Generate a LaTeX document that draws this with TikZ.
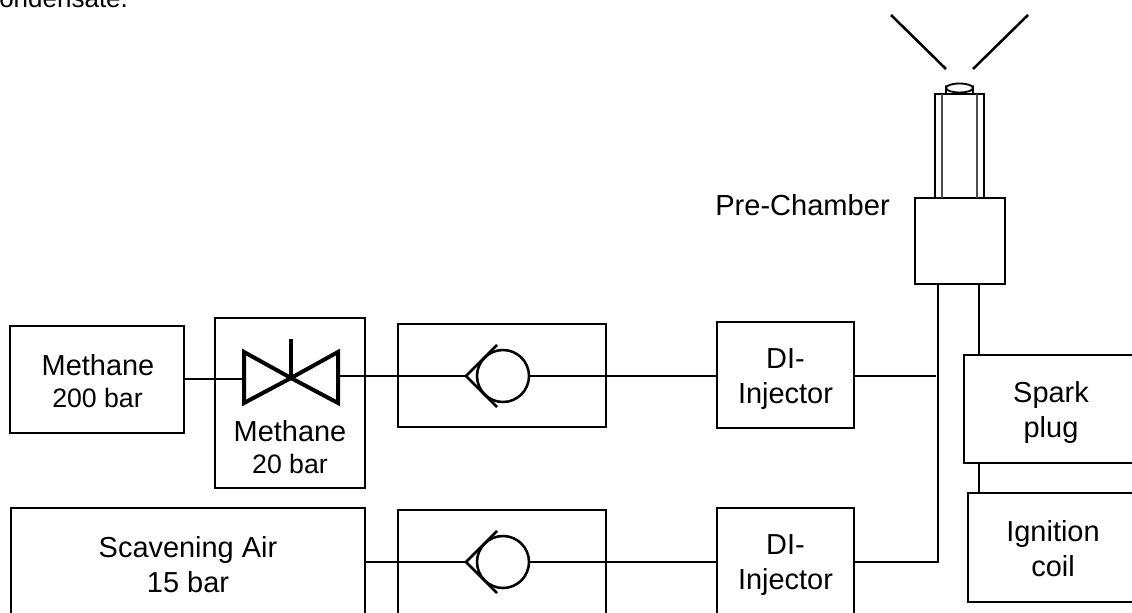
\documentclass[tikz,border=0pt]{standalone}
\usepackage{fontspec}
\setmainfont{Liberation Sans}
\newcommand{\fsA}{\fontsize{21.7pt}{26.25pt}\selectfont}
\newcommand{\fsB}{\fontsize{20pt}{26.25pt}\selectfont}
\tikzset{
  box/.style={draw=black,line width=1.9pt,inner sep=0pt},
  lbl/.style={inner sep=0pt,align=center,text=black,font=\fsA},
  lblb/.style={inner sep=0pt,align=center,text=black,font=\fsB},
  pipe/.style={draw=black,line width=1.9pt},
  thin tube/.style={draw=black!70,line width=1pt},
  valve/.style={draw=black,line width=3pt,line join=miter},
  chk/.style={draw=black,line width=1.9pt,circle,minimum size=39pt,inner sep=0pt},
}
\begin{document}
\begin{tikzpicture}[x=0.75pt,y=-0.75pt]
\useasboundingbox (0,0) rectangle (1132,613);
\clip (0,0) rectangle (1132,613);
% caption fragment cut by the top edge
\node[lbl,anchor=base west,font=\fontsize{19.5pt}{24pt}\selectfont] (cap) at (-14,7.5) {condensate.};
% boxes
\node[box,minimum width=130.5pt,minimum height=80.25pt] (meth200) at (97,379.5) {};
\node[lbl] (meth200t) at (98,365) {Methane};
\node[lblb] (meth200u) at (97.5,398) {200 bar};
\node[box,minimum width=112.5pt,minimum height=127.5pt] (meth20) at (290,403) {};
\node[lbl] (meth20t) at (290,431) {Methane};
\node[lblb] (meth20u) at (290,464) {20 bar};
\node[box,minimum width=156pt,minimum height=77.25pt] (chk1) at (502,375.5) {};
\node[box,minimum width=102.75pt,minimum height=79.5pt] (di1) at (785.5,375) {};
\node[lbl] (di1t) at (785.5,379) {DI-\\Injector};
\node[box,minimum width=265.5pt,minimum height=120pt] (air) at (188,588) {};
\node[lbl] (airt) at (188,565) {Scavening Air\\15 bar};
\node[box,minimum width=156pt,minimum height=120pt] (chk2) at (502,590) {};
\node[box,minimum width=102.75pt,minimum height=120pt] (di2) at (785.5,588) {};
\node[lbl] (di2t) at (785.5,565) {DI-\\Injector};
\node[box,minimum width=135pt,minimum height=81pt] (spark) at (1054,409) {};
\node[lbl] (sparkt) at (1051,412.5) {Spark\\plug};
\node[box,minimum width=135pt,minimum height=81.75pt] (coil) at (1058,547.5) {};
\node[lbl] (coilt) at (1053,549) {Ignition\\coil};
\node[box,minimum width=67.5pt,minimum height=64.5pt] (pre) at (960,241) {};
\node[lbl,anchor=east,font=\fontsize{21.8pt}{26pt}\selectfont] (pret) at (890,205) {Pre-Chamber};
% tube
\node[box,minimum width=36.75pt,minimum height=78pt] (tube) at (959.5,146) {};
\draw[thin tube] (942,94) -- (942,198);
\draw[thin tube] (977,94) -- (977,198);
% nozzle cap
\draw[pipe,line width=1.4pt] (946,94) -- (946,88) arc[start angle=180,end angle=0,x radius=13.5,y radius=4.5] -- (973,94);
\draw[pipe,line width=1.4pt] (946,88) arc[start angle=180,end angle=360,x radius=13.5,y radius=4.5];
% spray lines
\coordinate (sp1a) at (891,15); \coordinate (sp1b) at (946,69);
\coordinate (sp2a) at (1028,15); \coordinate (sp2b) at (973,69);
\draw[pipe] (sp1a) -- (sp1b);
\draw[pipe] (sp2a) -- (sp2b);
% valve
\coordinate (vl) at (244,379); \coordinate (vr) at (338,376);
\coordinate (vc) at (291,378);
\draw[valve] (vc) -- (244,352) -- (244,403) -- cycle;
\draw[valve] (vc) -- (338,352) -- (338,403) -- cycle;
\draw[pipe,line width=3pt] (291,339) -- (vc);
% check valves
\node[chk] (c1) at (503,376) {};
\node[chk] (c2) at (503,562) {};
\draw[pipe] (497,345) -- (466,376) -- (497,407);
\draw[pipe] (497,531) -- (466,562) -- (497,593);
% connectors
\coordinate (j1) at (935.5,376);
\coordinate (j2) at (938,284);
\draw[pipe] (meth200.east |- vl) -- (vl);
\draw[pipe] (vr) -- (466,376);
\draw[pipe] (c1.east) -- (di1.west |- c1.east);
\draw[pipe] (di1.east |- j1) -- (j1);
\draw[pipe] (air.east |- c2) -- (466,562);
\draw[pipe] (c2.east) -- (di2.west |- c2.east);
\draw[pipe] (di2.east |- c2) -- (938,562) -- (j2);
\draw[pipe] (979,284) -- (979,355);
\draw[pipe] (979,463) -- (979,493);
\end{tikzpicture}
\end{document}
